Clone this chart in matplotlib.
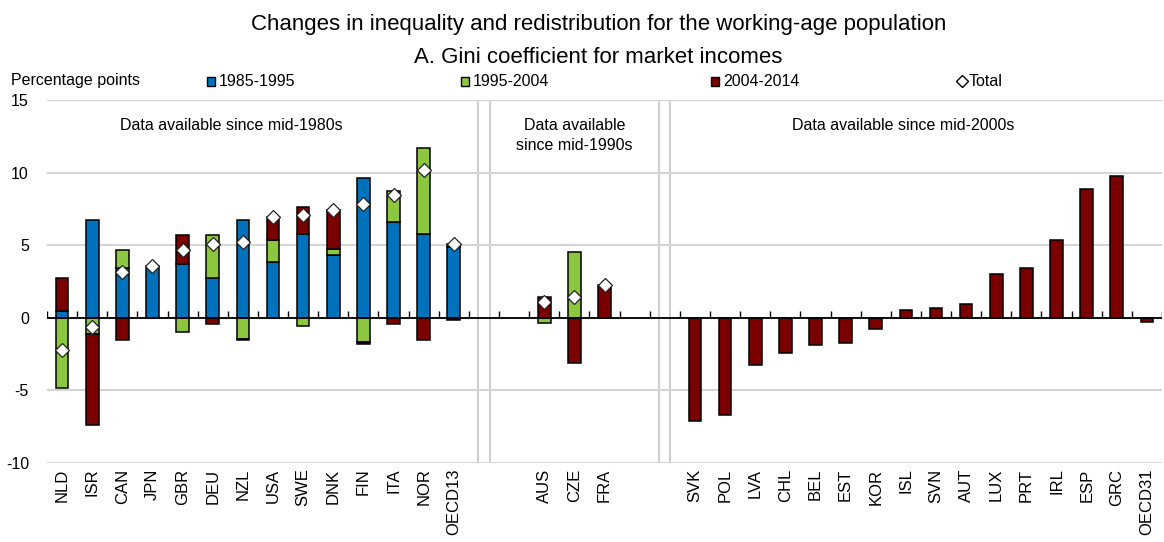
import matplotlib
matplotlib.use("Agg")
import matplotlib.pyplot as plt
from matplotlib.patches import Rectangle
from matplotlib.lines import Line2D
import numpy as np

plt.rcParams['font.family'] = ['Liberation Sans', 'DejaVu Sans']
plt.rcParams['axes.unicode_minus'] = False

# Countries with data since mid-1980s
group1 = ["NLD", "ISR", "CAN", "JPN", "GBR", "DEU", "NZL", "USA", "SWE",
          "DNK", "FIN", "ITA", "NOR", "OECD13"]
g1_8595 = [0.5, 6.75, 3.4, 3.6, 3.7, 2.75, 6.75, 3.85, 5.75, 4.35, 9.65, 6.6, 5.8, 4.85]
g1_9504 = [-4.85, -1.1, 1.3, 0.0, -1.0, 2.95, -1.45, 1.5, -0.55, 0.4, -1.7, 2.1, 5.9, 0.2]
g1_0414 = [2.25, -6.25, -1.55, 0.0, 2.0, -0.45, -0.1, 1.6, 1.9, 2.7, -0.1, -0.45, -1.55, -0.15]
g1_total = [-2.25, -0.6, 3.15, 3.6, 4.65, 5.1, 5.2, 6.95, 7.05, 7.45, 7.85, 8.45, 10.15, 5.1]

# Countries with data since mid-1990s
group2 = ["AUS", "CZE", "FRA"]
g2_9504 = [-0.35, 4.55, 0.0]
g2_0414 = [1.45, -3.1, 2.25]
g2_total = [1.1, 1.4, 2.25]

# Countries with data since mid-2000s
group3 = ["SVK", "POL", "LVA", "CHL", "BEL", "EST", "KOR", "ISL", "SVN",
          "AUT", "LUX", "PRT", "IRL", "ESP", "GRC", "OECD31"]
g3_0414 = [-7.1, -6.7, -3.25, -2.4, -1.85, -1.75, -0.75, 0.55, 0.7,
           0.95, 3.05, 3.45, 5.35, 8.85, 9.8, -0.3]

periods = ["1985-1995", "1995-2004", "2004-2014"]
colors = ["#0072BC", "#8DC63F", "#7A0000"]

# slot layout: group1 at 0..13, divider 14, gap 15, group2 16..18, gap 19, divider 20, group3 21..36
x1 = np.arange(len(group1))
x2 = np.arange(len(group2)) + 16
x3 = np.arange(len(group3)) + 21
dividers = [14, 20]

fig = plt.figure(figsize=(11.64, 5.42), dpi=100)
ax = fig.add_axes([47 / 1164, 1 - 463 / 542, 1115 / 1164, 363 / 542])

width = 0.42


def stacked(ax, xs, series):
    pos = np.zeros(len(xs))
    neg = np.zeros(len(xs))
    for vals, col in zip(series, colors):
        vals = np.asarray(vals, dtype=float)
        bottom = np.where(vals >= 0, pos, neg)
        mask = vals != 0
        ax.bar(xs[mask], vals[mask], width, bottom=bottom[mask], color=col,
               edgecolor="black", linewidth=1.1, zorder=3)
        pos = pos + np.clip(vals, 0, None)
        neg = neg + np.clip(vals, None, 0)


stacked(ax, x1, [g1_8595, g1_9504, g1_0414])
stacked(ax, x2, [np.zeros(3), g2_9504, g2_0414])
stacked(ax, x3, [np.zeros(len(group3)), np.zeros(len(group3)), g3_0414])

ax.plot(x1, g1_total, ls="none", marker="D", ms=7, mfc="white", mec="#222222",
        mew=0.9, zorder=5)
ax.plot(x2, g2_total, ls="none", marker="D", ms=7, mfc="white", mec="#222222",
        mew=0.9, zorder=5)

ax.set_xlim(-0.5, 36.5)
ax.set_ylim(-10, 15)
ax.set_yticks([-10, -5, 0, 5, 10, 15])
ax.grid(axis="y", color="#D4D4D4", lw=1.5, zorder=0)
ax.axhline(0, color="black", lw=1.3, zorder=4)
ax.vlines(np.arange(-0.5, 37, 1), 0, 0.5, color="black", lw=1.0, zorder=4)
for d in dividers:
    for off in (-0.19, 0.19):
        ax.axvline(d + off, color="#CFCFCF", lw=1.5, zorder=1)

ax.set_xticks(np.concatenate([x1, x2, x3]))
ax.set_xticklabels(group1 + group2 + group3, rotation=90, fontsize=12)
ax.tick_params(axis="x", length=0, pad=4)
ax.tick_params(axis="y", length=0, pad=13, labelsize=11.5)
for s in ax.spines.values():
    s.set_visible(False)

ax.text(5.6, 13.25, "Data available since mid-1980s", ha="center", va="center", fontsize=11.5)
ax.text(17, 12.55, "Data available\nsince mid-1990s", ha="center", va="center", fontsize=11.5,
        linespacing=1.4)
ax.text(27.9, 13.25, "Data available since mid-2000s", ha="center", va="center", fontsize=11.5)

fig.text(0.514, 1 - 30 / 542, "Changes in inequality and redistribution for the working-age population",
         ha="center", va="baseline", fontsize=16)
fig.text(0.514, 1 - 63 / 542, "A. Gini coefficient for market incomes", ha="center", va="baseline",
         fontsize=16)

# legend row
fig.text(11 / 1164, 1 - 80 / 542, "Percentage points", ha="left", va="center", fontsize=11.5)
leg_x = [207, 461, 711]
for lx, col, lab in zip(leg_x, colors, periods):
    fig.add_artist(Rectangle((lx / 1164, 1 - 86 / 542), 8 / 1164, 9 / 542, transform=fig.transFigure,
                             facecolor=col, edgecolor="black", lw=1.0))
    fig.text((lx + 12) / 1164, 1 - 81 / 542, lab, ha="left", va="center", fontsize=11.5)
fig.add_artist(Line2D([962 / 1164], [1 - 81 / 542], marker="D", ms=6, mfc="white", mec="black",
                      mew=1.0, transform=fig.transFigure))
fig.text(969 / 1164, 1 - 81 / 542, "Total", ha="left", va="center", fontsize=11.5)

fig.savefig("out.png", dpi=100)
